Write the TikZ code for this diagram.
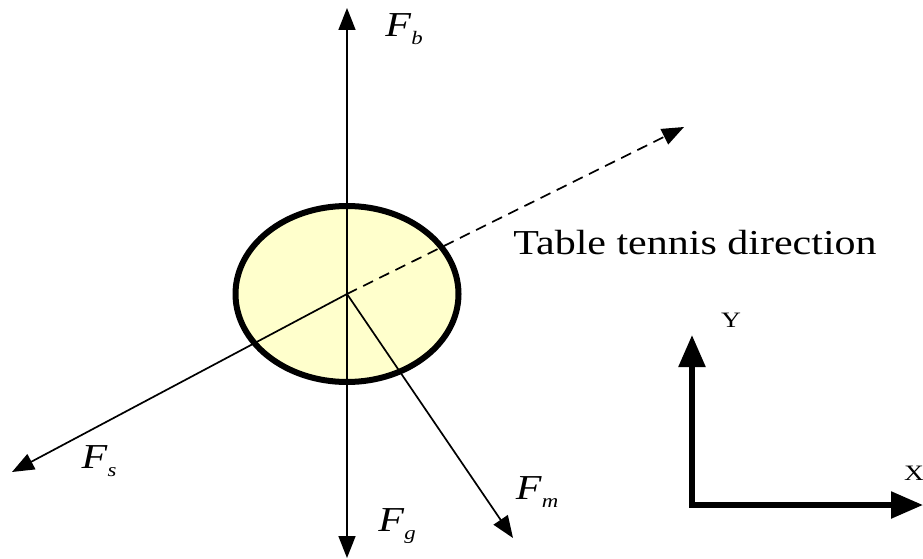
\documentclass[tikz,border=0pt]{standalone}
\usepackage{fontspec}
\setmainfont{Liberation Serif}
\usetikzlibrary{arrows.meta}
\definecolor{ballfill}{RGB}{255,255,204}
\newcommand{\forcelbl}[1]{\textit{F}\raisebox{-8pt}{\fontsize{19}{19}\selectfont\itshape #1}}
\begin{document}
\begin{tikzpicture}[x=1pt,y=-1pt,
  lbl/.style={xscale=1.2,inner sep=0pt,font=\fontsize{35}{38}\selectfont},
  axlbl/.style={xscale=1.25,inner sep=0pt,font=\fontsize{22}{24}\selectfont},
  force/.style={line width=1.7pt,-{Triangle[length=22pt,width=17pt]}},
  axisline/.style={line width=5.5pt,line join=miter,{Triangle[length=32pt,width=26pt]}-{Triangle[length=32pt,width=26pt]}}]
\useasboundingbox (0,0) rectangle (923,559);
\coordinate (o) at (347,294);
\coordinate (fb) at (347,8);
\coordinate (fg) at (347,558);
\coordinate (fs) at (12,472);
\coordinate (fm) at (513,538);
\coordinate (dir) at (684,127);
\draw[line width=6pt,fill=ballfill] (o) ellipse (111.5 and 88);
\draw[force] (o) -- (fb);
\draw[force] (o) -- (fg);
\draw[force] (o) -- (fs);
\draw[force] (o) -- (fm);
\draw[force,dash pattern=on 11pt off 7pt] (o) -- (dir);
% force labels
\node[lbl] (lfb) at (404,29) {\forcelbl{b}};
\node[lbl] (lfs) at (99,461) {\forcelbl{s}};
\node[lbl] (lfm) at (537,492) {\forcelbl{m}};
\node[lbl] (lfg) at (397,526) {\forcelbl{g}};
\node[lbl] (ldir) at (695,243) {Table tennis direction};
% axes
\coordinate (ax0) at (692,505);
\coordinate (axy) at (692,335);
\coordinate (axx) at (923,505);
\draw[axisline] (axy) -- (ax0) -- (axx);
\node[axlbl] (ly) at (731,320) {Y};
\node[axlbl] (lx) at (914,473) {X};
\end{tikzpicture}
\end{document}
